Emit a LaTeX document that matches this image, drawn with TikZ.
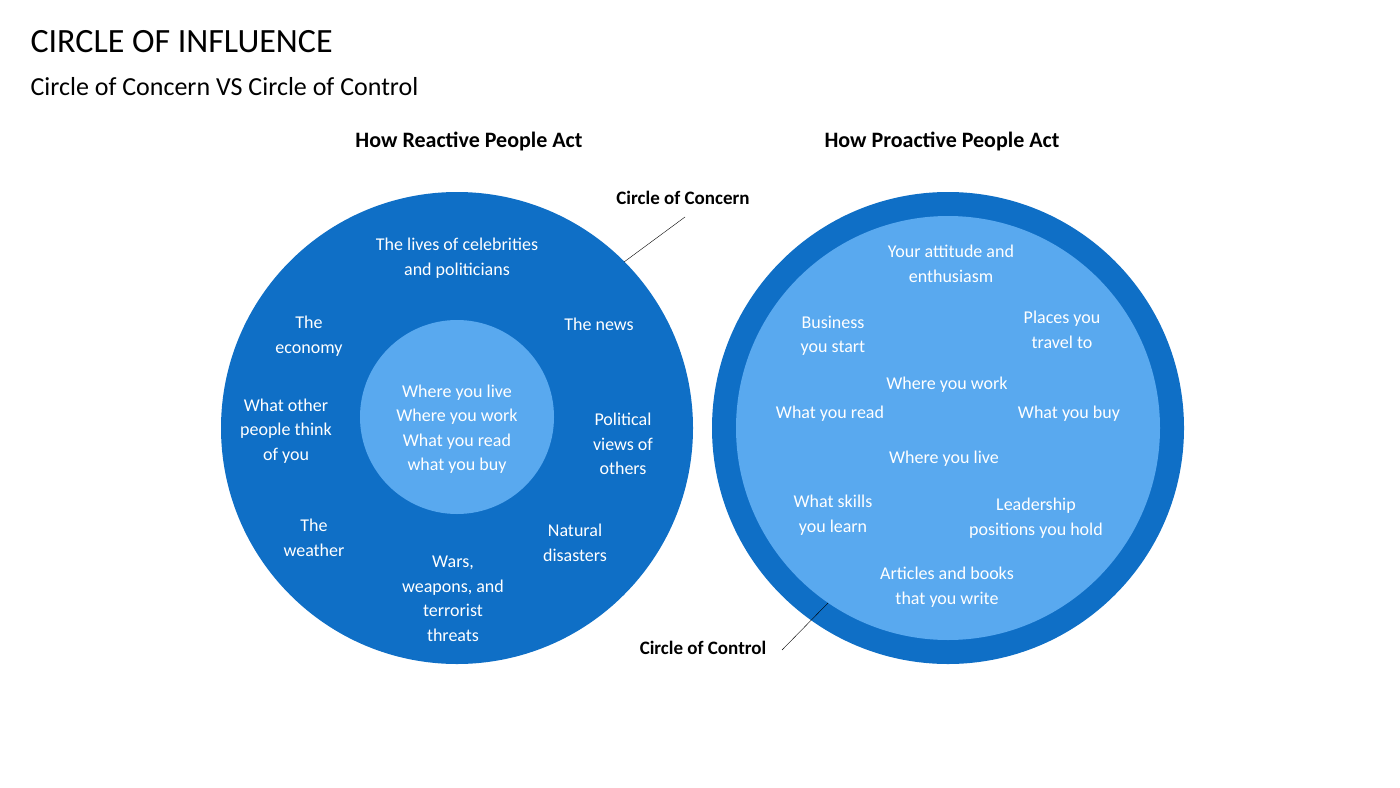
\documentclass[tikz,border=0pt]{standalone}
\usepackage{fontspec}
\setmainfont{Carlito}
\definecolor{dblue}{HTML}{0F6FC6}
\definecolor{lblue}{HTML}{59A9EF}
\begin{document}
\begin{tikzpicture}[x=1pt,y=-1pt,
  t/.style={text=white,align=center,font=\fontsize{18}{24.5}\selectfont},
  h/.style={font=\fontsize{22}{26}\selectfont\bfseries},
  lb/.style={font=\fontsize{19}{23}\selectfont\bfseries}]
\useasboundingbox (0,0) rectangle (1400,787);
\node[anchor=west,font=\fontsize{34}{40}\selectfont] (title) at (27,42) {CIRCLE OF INFLUENCE};
\node[anchor=west,font=\fontsize{26}{30}\selectfont] (sub) at (27,87) {Circle of Concern VS Circle of Control};
\node[h] (hl) at (469,141) {How Reactive People Act};
\node[h] (hr) at (942,141) {How Proactive People Act};
% left
\fill[dblue] (457,428) circle (236);
\fill[lblue] (457,417) circle (97);
\node[t] (c1) at (457,428) {};
\node[t] (a) at (457,258) {The lives of celebrities\\and politicians};
\node[t] (b) at (309,336) {The\\economy};
\node[t] (c) at (599,324) {The news};
\node[t] (d) at (286,431) {What other\\people think\\of you};
\node[t] (e) at (623,444) {Political\\views of\\others};
\node[t] (f) at (314,538) {The\\weather};
\node[t] (g) at (575,543) {Natural\\disasters};
\node[t] (hh) at (453,599) {Wars,\\weapons, and\\terrorist\\threats};
\node[t] (i) at (457,429) {Where you live\\Where you work\\What you read\\what you buy};
% right
\fill[dblue] (948,428) circle (236);
\fill[lblue] (948,428) circle (212);
\node[t] (r1) at (951,264) {Your attitude and\\enthusiasm};
\node[t] (r2) at (833,336) {Business\\you start};
\node[t] (r3) at (1062,330) {Places you\\travel to};
\node[t] (r4) at (947,385) {Where you work};
\node[t] (r5) at (830,414) {What you read};
\node[t] (r6) at (1069,414) {What you buy};
\node[t] (r7) at (944,459) {Where you live};
\node[t] (r8) at (833,515) {What skills\\you learn};
\node[t] (r9) at (1036,518) {Leadership\\positions you hold};
\node[t] (r10) at (947,587) {Articles and books\\that you write};
% labels
\node[lb] (lc) at (683,198) {Circle of Concern};
\coordinate (lcp) at (624,262);
\draw[thin] (685,217) -- (lcp);
\node[lb] (lk) at (703,648) {Circle of Control};
\coordinate (lkp) at (828,603);
\draw[thin] (782,650) -- (lkp);
\end{tikzpicture}
\end{document}
